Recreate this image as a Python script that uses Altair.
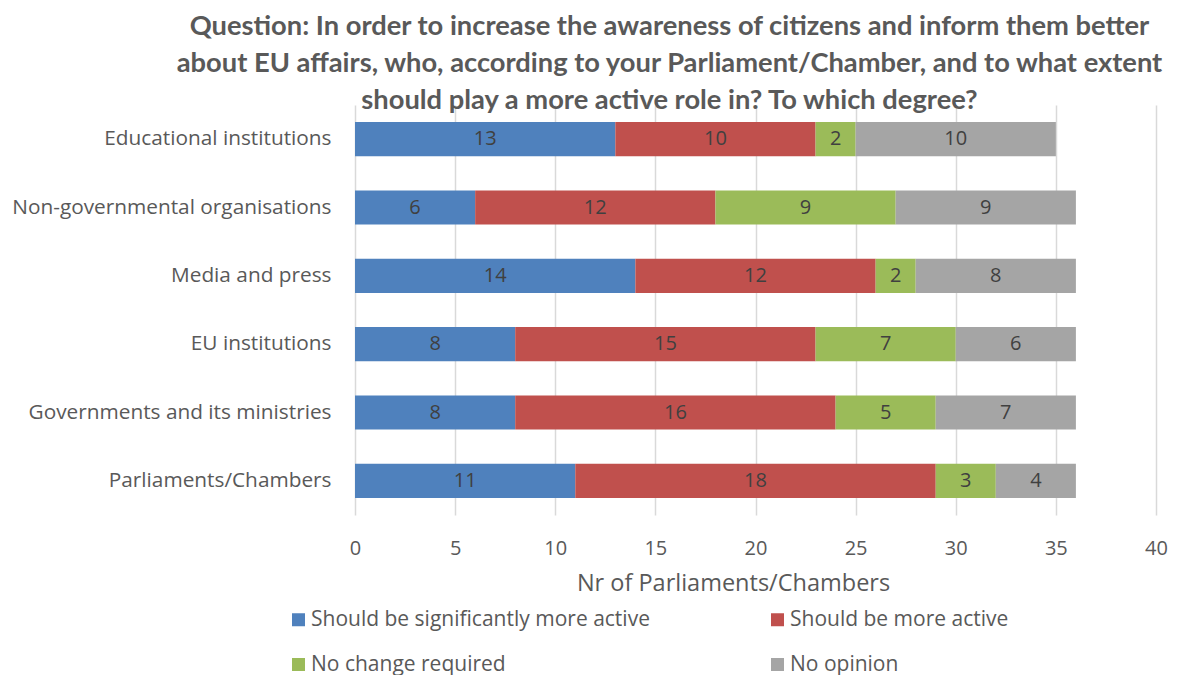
import altair as alt
import pandas as pd

categories = ["Educational institutions", "Non-governmental organisations", "Media and press ",
              "EU institutions", "Governments and its ministries ", "Parliaments/Chambers"]
series = ["Should be significantly more active", "Should be more active",
          "No change required", "No opinion"]
colors = ["#4F81BD", "#C0504D", "#9BBB59", "#A5A5A5"]
sig_more = [13, 6, 14, 8, 8, 11]
more = [10, 12, 12, 15, 16, 18]
no_change = [2, 9, 2, 7, 5, 3]
no_opinion = [10, 9, 8, 6, 7, 4]

rows = []
for s_i, (s, vals) in enumerate(zip(series, [sig_more, more, no_change, no_opinion])):
    for c, v in zip(categories, vals):
        rows.append({"category": c, "series": s, "order": s_i, "value": v})
df = pd.DataFrame(rows)

FONT = "Open Sans"
TFONT = "Lato"

base = alt.Chart(df).transform_stack(
    stack="value", groupby=["category"], as_=["x0", "x1"],
    sort=[alt.SortField("order", order="ascending")]
).transform_calculate(mid="(datum.x0 + datum.x1) / 2")

y_enc = alt.Y("category:N", sort=categories, title=None,
              scale=alt.Scale(paddingInner=0.5, paddingOuter=0.25),
              axis=alt.Axis(labelFontSize=20.8, labelColor="#595959", labelFont=FONT,
                            labelPadding=24, domain=False, ticks=False, grid=False,
                            labelLimit=400))

bars = base.mark_bar().encode(
    x=alt.X("x0:Q", title="Nr of Parliaments/Chambers",
            scale=alt.Scale(domain=[0, 40], nice=False),
            axis=alt.Axis(values=list(range(0, 41, 5)), labelFontSize=20, labelColor="#595959",
                          labelFont=FONT, labelPadding=23, domain=False, ticks=False,
                          labelFlush=False,
                          grid=True, gridColor="#D9D9D9", gridWidth=1.5,
                          titleFont=FONT, titleFontSize=23.5, titleColor="#595959",
                          titleFontWeight="normal", titlePadding=13, titleX=378)),
    x2="x1:Q",
    y=y_enc,
    color=alt.Color("series:N", scale=alt.Scale(domain=series, range=colors),
                    legend=alt.Legend(title=None, orient="none", legendX=-67, legendY=504,
                                      values=[series[0], series[2], series[1], series[3]],
                                      columns=2, columnPadding=117, rowPadding=23,
                                      padding=0, labelOffset=2,
                                      symbolType="square", symbolSize=169,
                                      symbolStrokeWidth=0, labelFont=FONT,
                                      labelFontSize=21, labelColor="#595959",
                                      labelLimit=500, symbolOffset=0)),
    order=alt.Order("order:Q"),
)

labels = base.mark_text(fontSize=20, font=FONT, color="#404040").encode(
    x=alt.X("mid:Q"),
    y=alt.Y("category:N", sort=categories),
    text=alt.Text("value:Q"),
)

chart = alt.layer(bars, labels).properties(
    width=801, height=410,
    padding={"left": 347, "top": 97, "right": 13, "bottom": 160},
    autosize=alt.AutoSizeParams(type="none"),
    title=alt.TitleParams(
        text=["Question: In order to increase the awareness of citizens and inform them better",
              "about EU affairs, who, according to your Parliament/Chamber, and to what extent",
              "should play a more active role in? To which degree?"],
        font=TFONT, fontSize=27.3, fontWeight="bold", color="#595959",
        anchor="middle", dx=-86, lineHeight=37, offset=-9),
).configure_view(stroke=None)

chart.save("out.html", embed_options={"renderer": "svg", "actions": False})
